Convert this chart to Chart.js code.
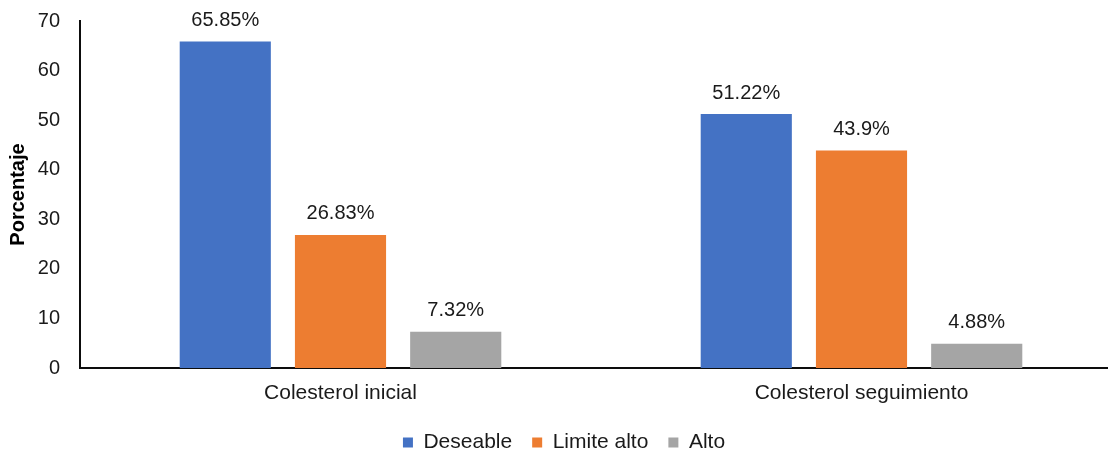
<!DOCTYPE html>
<html>
<head>
<meta charset="utf-8">
<script src="https://cdn.jsdelivr.net/npm/chart.js@4/dist/chart.umd.min.js"></script>
<style>
  html, body { margin: 0; padding: 0; background: #fff; overflow: hidden; }
  #wrap { width: 1122px; height: 474px; margin-top: -11px; }
</style>
</head>
<body>
<div id="wrap"><canvas id="chart"></canvas></div>
<script>
// Categories and series
const categories = ['Colesterol inicial', 'Colesterol seguimiento'];
const deseable = [65.85, 51.22];
const limiteAlto = [26.83, 43.9];
const alto = [7.32, 4.88];
const yTicks = [0, 10, 20, 30, 40, 50, 60, 70];

const FONT = 'Liberation Sans, Arial, sans-serif';

// Draws the value label above each bar
const valueLabels = {
    id: 'valueLabels',
    afterDatasetsDraw(chart) {
        const ctx = chart.ctx;
        ctx.save();
        ctx.font = '20px ' + FONT;
        ctx.fillStyle = '#1a1a1a';
        ctx.textAlign = 'center';
        ctx.textBaseline = 'alphabetic';
        chart.data.datasets.forEach((ds, i) => {
            chart.getDatasetMeta(i).data.forEach((bar, j) => {
                ctx.fillText(ds.data[j] + '%', bar.x, bar.y - 15.5);
            });
        });
        ctx.restore();
    }
};

new Chart(document.getElementById('chart'), {
    type: 'bar',
    data: {
        labels: categories,
        datasets: [
            { label: 'Deseable', data: deseable, backgroundColor: '#4472C4' },
            { label: 'Limite alto', data: limiteAlto, backgroundColor: '#ED7D31' },
            { label: 'Alto', data: alto, backgroundColor: '#A5A5A5' }
        ]
    },
    options: {
        responsive: true,
        maintainAspectRatio: false,
        animation: false,
        layout: { padding: { top: 0, right: 0, left: 6, bottom: 0 } },
        datasets: {
            bar: { categoryPercentage: 0.6635, barPercentage: 0.791 }
        },
        scales: {
            x: {
                afterFit: s => { s.height = 44; },
                grid: { display: false, drawTicks: false },
                border: { color: '#0d0d0d', width: 2 },
                ticks: { color: '#1a1a1a', font: { family: FONT, size: 21 }, padding: 13 }
            },
            y: {
                min: 0,
                max: 70,
                afterBuildTicks: axis => { axis.ticks = yTicks.map(v => ({ value: v })); },
                afterFit: s => { s.width = 74; },
                grid: { display: false, drawTicks: false },
                border: { color: '#0d0d0d', width: 2 },
                ticks: { color: '#1a1a1a', font: { family: FONT, size: 20 }, padding: 20 },
                title: {
                    display: true,
                    text: 'Porcentaje',
                    color: '#000',
                    font: { family: FONT, size: 20, weight: 'bold' },
                    padding: { top: 0, bottom: 0 }
                }
            }
        },
        plugins: {
            legend: {
                position: 'bottom',
                labels: {
                    boxWidth: 10,
                    boxHeight: 10,
                    padding: 20,
                    color: '#1a1a1a',
                    font: { family: FONT, size: 21 }
                }
            },
            tooltip: { enabled: false }
        }
    },
    plugins: [valueLabels]
});
</script>
</body>
</html>
